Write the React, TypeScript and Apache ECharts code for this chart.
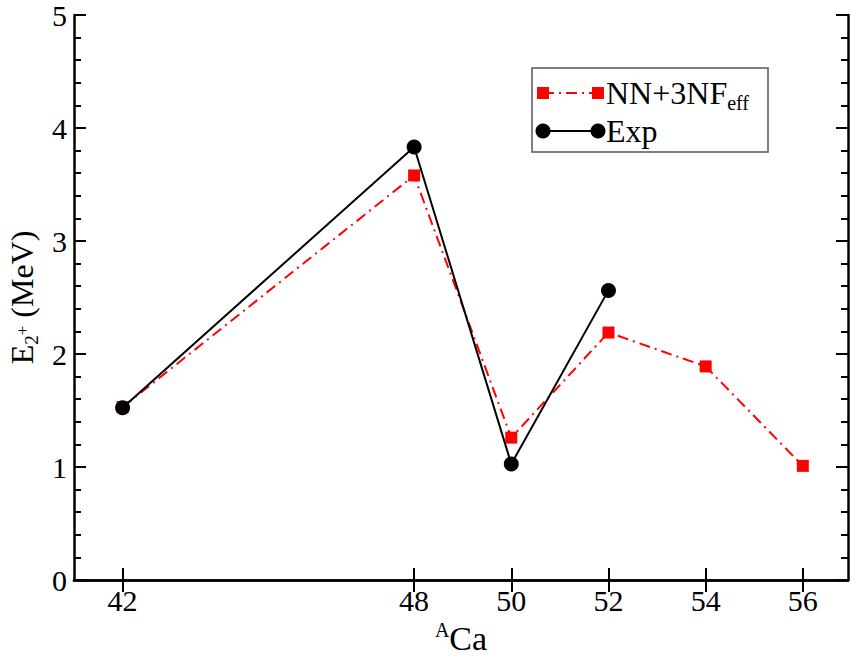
import React, { useEffect, useRef } from "react";
import * as echarts from "echarts";

// Data
const massNumbers = [42, 48, 50, 52, 54, 56];
const theoryE2 = [1.53, 3.58, 1.26, 2.19, 1.89, 1.01];
const expMass = [42, 48, 50, 52];
const expE2 = [1.525, 3.832, 1.027, 2.563];
const xTickValues = [42, 48, 50, 52, 54, 56];
const seriesNames = ["NN+3NF_eff", "Exp"];

const FONT = "Liberation Serif";

export default function App() {
  const ref = useRef<HTMLDivElement>(null);

  useEffect(() => {
    const chart = echarts.init(ref.current!, null, { renderer: "svg" });

    const axisLine = { show: true, lineStyle: { color: "#000", width: 2.5 } };
    const tickStyle = { color: "#000", width: 2 };
    const labelStyle = { fontSize: 30, fontFamily: FONT, color: "#000" };

    const option: any = {
      animation: false,
      backgroundColor: "#fff",
      textStyle: { fontFamily: FONT },
      grid: { left: 74, top: 15, right: 2, bottom: 76, containLabel: false, outerBoundsMode: "none" },
      xAxis: [
        {
          type: "value",
          position: "bottom",
          min: 41,
          max: 56.93,
          axisLine,
          splitLine: { show: false },
          axisTick: { show: true, inside: true, length: 12, lineStyle: tickStyle, customValues: xTickValues },
          axisLabel: { customValues: xTickValues, ...labelStyle, margin: 5 },
          name: "{sup|A}{b|Ca}",
          nameLocation: "middle",
          nameGap: 30,
          nameTextStyle: {
            fontFamily: FONT,
            fontSize: 34,
            color: "#000",
            rich: {
              b: { fontFamily: FONT, fontSize: 34, color: "#000", lineHeight: 36, verticalAlign: "bottom" },
              sup: { fontFamily: FONT, fontSize: 20, color: "#000", lineHeight: 20, verticalAlign: "top" },
            },
          },
        },
        {
          type: "value",
          position: "top",
          min: 41,
          max: 56.93,
          axisLine,
          splitLine: { show: false },
          axisTick: { show: true, inside: true, length: 12, lineStyle: tickStyle, customValues: xTickValues },
          axisLabel: { show: false },
        },
      ],
      yAxis: [
        {
          type: "value",
          position: "left",
          min: 0,
          max: 5,
          interval: 1,
          axisLine,
          splitLine: { show: false },
          axisTick: { show: true, inside: true, length: 12, lineStyle: tickStyle },
          minorTick: { show: true, splitNumber: 5, length: 7, lineStyle: tickStyle },
          minorSplitLine: { show: false },
          axisLabel: { ...labelStyle, margin: 7 },
          name: "{b|E}{sub|2}{sup|+}{b| (MeV)}",
          nameLocation: "middle",
          nameGap: 30,
          nameTextStyle: {
            fontFamily: FONT,
            fontSize: 32,
            color: "#000",
            rich: {
              b: { fontFamily: FONT, fontSize: 32, color: "#000", lineHeight: 38, verticalAlign: "middle" },
              sub: { fontFamily: FONT, fontSize: 19, color: "#000", lineHeight: 19, verticalAlign: "bottom" },
              sup: { fontFamily: FONT, fontSize: 17, color: "#000", lineHeight: 17, verticalAlign: "middle" },
            },
          },
        },
        {
          type: "value",
          position: "right",
          min: 0,
          max: 5,
          interval: 1,
          axisLine,
          splitLine: { show: false },
          axisTick: { show: true, inside: true, length: 12, lineStyle: tickStyle },
          minorTick: { show: true, splitNumber: 5, length: 7, lineStyle: tickStyle },
          minorSplitLine: { show: false },
          axisLabel: { show: false },
        },
      ],
      series: [
        {
          name: seriesNames[0],
          type: "line",
          xAxisIndex: 0,
          yAxisIndex: 0,
          data: massNumbers.map((m, i) => [m, theoryE2[i]]),
          symbol: "rect",
          symbolSize: 12,
          itemStyle: { color: "#ff0000" },
          lineStyle: { color: "#ff0000", width: 2, type: [11, 5, 2, 5] },
          z: 2,
        },
        {
          name: seriesNames[1],
          type: "line",
          xAxisIndex: 0,
          yAxisIndex: 0,
          data: expMass.map((m, i) => [m, expE2[i]]),
          symbol: "circle",
          symbolSize: 15,
          itemStyle: { color: "#000" },
          lineStyle: { color: "#000", width: 2 },
          z: 3,
        },
      ],
      graphic: [
        {
          type: "group",
          children: [
            { type: "rect", shape: { x: 532, y: 68, width: 236, height: 84 }, style: { fill: "#fff", stroke: "#555", lineWidth: 1.5 } },
            { type: "line", shape: { x1: 543, y1: 93, x2: 598, y2: 93 }, style: { stroke: "#ff0000", lineWidth: 2, lineDash: [11, 5, 2, 5] } },
            { type: "rect", shape: { x: 537, y: 87, width: 12, height: 12 }, style: { fill: "#ff0000" } },
            { type: "rect", shape: { x: 592, y: 87, width: 12, height: 12 }, style: { fill: "#ff0000" } },
            {
              type: "text",
              x: 606,
              y: 93,
              style: {
                text: "{b|NN+3NF}{sub|eff}",
                verticalAlign: "middle",
                rich: {
                  b: { fontFamily: FONT, fontSize: 32, fill: "#000", lineHeight: 40, verticalAlign: "middle" },
                  sub: { fontFamily: FONT, fontSize: 20, fill: "#000", lineHeight: 20, verticalAlign: "bottom" },
                },
              },
            },
            { type: "line", shape: { x1: 543, y1: 131, x2: 598, y2: 131 }, style: { stroke: "#000", lineWidth: 2 } },
            { type: "circle", shape: { cx: 543, cy: 131, r: 7.5 }, style: { fill: "#000" } },
            { type: "circle", shape: { cx: 598, cy: 131, r: 7.5 }, style: { fill: "#000" } },
            {
              type: "text",
              x: 606,
              y: 131,
              style: { text: "Exp", fontFamily: FONT, fontSize: 32, fill: "#000", verticalAlign: "middle" },
            },
          ],
        },
      ],
    };

    chart.setOption(option);
    return () => chart.dispose();
  }, []);

  return (
    <div
      ref={ref}
      style={{ position: "fixed", left: 0, top: 0, width: 850, height: 656, background: "#fff" }}
    />
  );
}
